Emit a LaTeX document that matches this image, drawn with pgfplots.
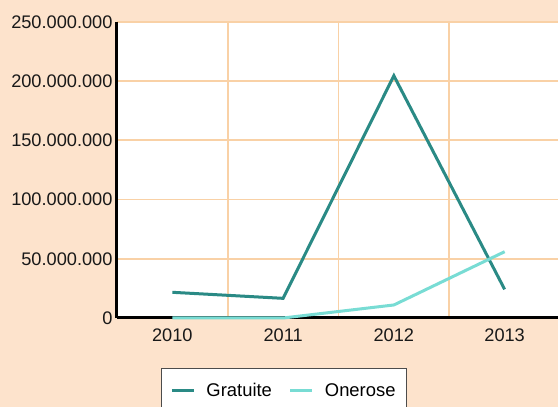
\documentclass[border=0pt]{standalone}
\usepackage{pgfplots}
\pgfplotsset{compat=1.18}
\usepackage{fontspec}
\setmainfont{Liberation Sans}
\definecolor{bgc}{HTML}{FDE3CC}
\definecolor{gridc}{HTML}{F9D1A6}
\definecolor{gratc}{HTML}{2A8A85}
\definecolor{onerc}{HTML}{78DCD4}
\begin{document}
\begin{tikzpicture}
\fill[bgc] (0,0) rectangle (558pt,407pt);
\begin{axis}[
  at={(117pt,89pt)}, anchor=south west,
  scale only axis, width=443pt, height=296pt,
  xmin=-0.5, xmax=3.5, ymin=0, ymax=250000000,
  axis background/.style={fill=white},
  xtick={0,1,2,3}, xticklabels={2010,2011,2012,2013},
  minor xtick={0.5,1.5,2.5,3.5},
  ytick={0,50000000,100000000,150000000,200000000,250000000},
  yticklabels={0,50.000.000,100.000.000,150.000.000,200.000.000,250.000.000},
  scaled y ticks=false,
  major tick length=0pt, minor tick length=0pt,
  xmajorgrids=false, xminorgrids=true, ymajorgrids=true,
  grid style={gridc, line width=1.8pt},
  minor grid style={gridc, line width=1.8pt},
  axis x line=bottom, axis y line=left,
  axis line style={-, black, line width=3pt},
  tick label style={font=\fontsize{18.2}{21}\selectfont, text=black!90},
  yticklabel style={xshift=-1pt},
  xticklabel style={yshift=-7pt},
  legend style={at={(axis description cs:0.377,-0.169)}, anchor=north,
    legend columns=2, draw=black!70, line width=1pt, fill=white,
    font=\fontsize{18.4}{21}\selectfont, inner xsep=9pt, inner ysep=13pt,
    /tikz/every odd column/.append style={column sep=9pt},
    /tikz/every even column/.append style={column sep=15pt}},
  legend image code/.code={\draw[#1, line width=3pt] (0pt,0pt) -- (22pt,0pt);},
  clip=false,
]
\addplot[gratc, line width=3pt] coordinates {(0,21700000) (1,16600000) (2,204600000) (3,24200000)};
\addlegendentry{Gratuite}
\addplot[onerc, line width=3pt] coordinates {(0,0) (1,0) (2,11000000) (3,56000000)};
\addlegendentry{Onerose}
\end{axis}
\pgfresetboundingbox
\useasboundingbox (0,0) rectangle (558pt,407pt);
\end{tikzpicture}
\end{document}
